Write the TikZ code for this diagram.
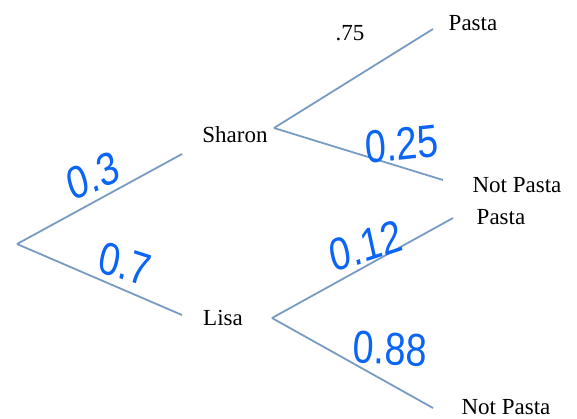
\documentclass[tikz,border=0pt]{standalone}
\usepackage{fontspec}
\setmainfont{Liberation Serif}
\newfontfamily\handfont{Liberation Sans}
\definecolor{branch}{RGB}{120,155,195}
\definecolor{ink}{RGB}{10,100,245}
\begin{document}
\begin{tikzpicture}[x=1pt,y=-1pt,
  branchline/.style={draw=branch,line width=1.8pt},
  lab/.style={inner sep=0pt,font=\fontsize{23}{26}\selectfont},
  prob/.style={inner sep=0pt,text=ink,font=\handfont\fontsize{46}{48}\selectfont,xscale=0.82}]
\useasboundingbox (0,0) rectangle (577,418);
% branch points
\coordinate (r) at (17,244);
\coordinate (s1) at (182,154);
\coordinate (l1) at (182,315);
\coordinate (so) at (274,128);
\coordinate (sp) at (433,29);
\coordinate (sn) at (443,180);
\coordinate (lo) at (272,318);
\coordinate (lp) at (453,218);
\coordinate (ln) at (433,408);
% labels
\node[lab] (sharon) at (235,135) {Sharon};
\node[lab] (lisa) at (223,318) {Lisa};
\node[lab] (pasta1) at (473,23) {Pasta};
\node[lab] (notpasta1) at (517,185) {Not Pasta};
\node[lab] (pasta2) at (501,217) {Pasta};
\node[lab] (notpasta2) at (506,407) {Not Pasta};
\node[lab] (p75) at (350,33) {.75};
% connectors
\draw[branchline] (r) -- (s1);
\draw[branchline] (r) -- (l1);
\draw[branchline] (so) -- (sp);
\draw[branchline] (so) -- (sn);
\draw[branchline] (lo) -- (lp);
\draw[branchline] (lo) -- (ln);
% handwritten probabilities
\node[prob,rotate=20] (p03) at (93,176) {0.3};
\node[prob,rotate=-15] (p07) at (125,264) {0.7};
\node[prob,rotate=5] (p025) at (402,144) {0.25};
\node[prob,rotate=15] (p012) at (366,246) {0.12};
\node[prob,rotate=-3] (p088) at (390,349) {0.88};
\end{tikzpicture}
\end{document}
